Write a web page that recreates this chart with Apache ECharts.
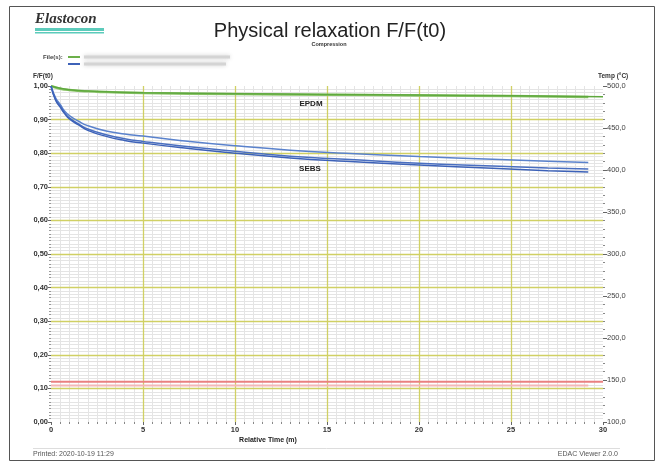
<!DOCTYPE html>
<html>
<head>
<meta charset="utf-8">
<script src="https://cdn.jsdelivr.net/npm/echarts@6/dist/echarts.min.js"></script>
<style>html,body{margin:0;padding:0;background:#fff;}#c{width:661px;height:463px;}</style>
</head>
<body>
<div id="c"></div>
<script>
// Time points (minutes)
var tBlue = [0, 0.25, 0.5, 0.75, 1, 1.5, 2, 3, 4, 5, 7, 10, 13, 16, 20, 24, 27, 29.2];
var sebs1 = [1.0, 0.965, 0.945, 0.925, 0.912, 0.895, 0.882, 0.866, 0.857, 0.851, 0.838, 0.822, 0.809, 0.800, 0.790, 0.782, 0.776, 0.772];
var sebs2 = [1.0, 0.960, 0.940, 0.920, 0.905, 0.887, 0.872, 0.855, 0.843, 0.835, 0.822, 0.806, 0.791, 0.782, 0.770, 0.762, 0.756, 0.753];
var sebs3 = [1.0, 0.958, 0.937, 0.917, 0.902, 0.884, 0.868, 0.850, 0.838, 0.830, 0.817, 0.800, 0.786, 0.776, 0.765, 0.755, 0.748, 0.744];
var tGreen = [0, 0.5, 1, 2, 3, 5, 10, 15, 20, 25, 30];
var epdm1 = [1.0, 0.993, 0.989, 0.985, 0.983, 0.980, 0.977, 0.975, 0.973, 0.971, 0.968];
var tGreen2 = [0, 0.5, 1, 2, 3, 5, 10, 15, 20, 25, 29.2];
var epdm2 = [1.0, 0.992, 0.988, 0.984, 0.982, 0.979, 0.976, 0.974, 0.972, 0.970, 0.967];
var tTemp1 = [0, 30];
var temp1 = [148, 148];
var tTemp2 = [0, 29.2];
var temp2 = [143.5, 143.5];
var yTicksLeft = [0, 1, 0.1];
var yTicksRight = [100, 500, 50];
var xTicks = [0, 30, 5];
var xMajorLines = [5, 10, 15, 20, 25];
var yMajorLines = [0.1, 0.2, 0.3, 0.4, 0.5, 0.6, 0.7, 0.8, 0.9];

function pairs(t, v) { return t.map(function (x, i) { return [x, v[i]]; }); }

var chart = echarts.init(document.getElementById('c'), null, {renderer: 'canvas'});
var major = '#d0d064';
var minor = '#e4e4e4';
var lblFont = {fontSize: 7.5, color: '#333', fontFamily: 'Liberation Sans, Arial', fontWeight: 'bold'};

function G(o) { o.z = 100; o.silent = true; return o; }
function S(o) { o.z = 10; o.showSymbol = false; return o; }

var gridMarks = xMajorLines.map(function (v) { return {xAxis: v}; })
  .concat(yMajorLines.map(function (v) { return {yAxis: v}; }));

chart.setOption({
  animation: false,
  grid: {left: 51, right: 58, top: 86, bottom: 41, containLabel: false},
  xAxis: {
    type: 'value', min: xTicks[0], max: xTicks[1], interval: xTicks[2],
    axisLine: {show: false},
    axisTick: {show: true, length: 3, lineStyle: {color: '#666'}},
    minorTick: {show: true, splitNumber: 10, length: 2, lineStyle: {color: '#888'}},
    splitLine: {show: false},
    minorSplitLine: {show: true, lineStyle: {color: minor, width: 1}},
    axisLabel: Object.assign({margin: 4}, lblFont)
  },
  yAxis: [{
    type: 'value', min: yTicksLeft[0], max: yTicksLeft[1], interval: yTicksLeft[2],
    position: 'left',
    axisLine: {show: false},
    axisTick: {show: true, length: 3, lineStyle: {color: '#666'}},
    minorTick: {show: true, splitNumber: 10, length: 2, lineStyle: {color: '#999'}},
    splitLine: {show: false},
    minorSplitLine: {show: true, lineStyle: {color: minor, width: 1}},
    axisLabel: Object.assign({margin: 3, formatter: function (v) { return v.toFixed(2).replace('.', ','); }}, lblFont)
  }, {
    type: 'value', min: yTicksRight[0], max: yTicksRight[1], interval: yTicksRight[2],
    position: 'right',
    axisLine: {show: false},
    axisTick: {show: true, length: 4, lineStyle: {color: '#666'}},
    minorTick: {show: true, splitNumber: 5, length: 2, lineStyle: {color: '#888'}},
    splitLine: {show: false},
    axisLabel: {margin: 4, fontSize: 7.5, color: '#444', fontFamily: 'Liberation Sans, Arial',
      formatter: function (v) { return v.toFixed(1).replace('.', ','); }}
  }],
  series: [
    {type: 'line', z: 5, data: [], showSymbol: false,
      markLine: {silent: true, symbol: 'none', label: {show: false}, animation: false,
        lineStyle: {color: major, width: 1.3, type: 'solid', opacity: 1}, emphasis: {disabled: true},
        data: gridMarks}},
    S({type: 'line', yAxisIndex: 1, data: pairs(tTemp2, temp2), lineStyle: {color: '#f4b8b8', width: 2}}),
    S({type: 'line', yAxisIndex: 1, data: pairs(tTemp1, temp1), lineStyle: {color: '#ea8080', width: 2}}),
    S({type: 'line', data: pairs(tGreen2, epdm2), smooth: true, lineStyle: {color: '#8cc56a', width: 2.5}}),
    S({type: 'line', data: pairs(tGreen, epdm1), smooth: true, lineStyle: {color: '#5fa83e', width: 1.5}}),
    S({type: 'line', data: pairs(tBlue, sebs1), smooth: true, lineStyle: {color: '#5a82cc', width: 1.5}}),
    S({type: 'line', data: pairs(tBlue, sebs2), smooth: true, lineStyle: {color: '#4a6fc0', width: 1.5}}),
    S({type: 'line', data: pairs(tBlue, sebs3), smooth: true, lineStyle: {color: '#3d62b8', width: 1.5}})
  ],
  graphic: [
    G({type: 'rect', shape: {x: 9.5, y: 6.5, width: 645, height: 454}, style: {fill: null, stroke: '#555', lineWidth: 1}}),
    G({type: 'text', left: 35, top: 12, style: {text: 'Elastocon', font: 'italic bold 15px "Liberation Serif", "DejaVu Serif", serif', fill: '#333'}}),
    G({type: 'rect', shape: {x: 35, y: 28, width: 69, height: 3}, style: {fill: '#5ccbbb'}}),
    G({type: 'rect', shape: {x: 35, y: 32, width: 69, height: 1.5}, style: {fill: '#5ccbbb'}}),
    G({type: 'text', x: 330, y: 31, style: {text: 'Physical relaxation F/F(t0)', font: '20px "Liberation Sans", Arial, sans-serif', fill: '#222', textAlign: 'center', textVerticalAlign: 'middle'}}),
    G({type: 'text', x: 329, y: 44, style: {text: 'Compression', font: 'bold 5.5px "Liberation Sans", Arial, sans-serif', fill: '#333', textAlign: 'center', textVerticalAlign: 'middle'}}),
    G({type: 'text', x: 43, y: 57, style: {text: 'File(s):', font: 'bold 6px "Liberation Sans", Arial, sans-serif', fill: '#444', textVerticalAlign: 'middle'}}),
    G({type: 'line', shape: {x1: 68, y1: 57, x2: 80, y2: 57}, style: {stroke: '#6cb04a', lineWidth: 2}}),
    G({type: 'line', shape: {x1: 68, y1: 64, x2: 80, y2: 64}, style: {stroke: '#3d62b8', lineWidth: 2}}),
    G({type: 'rect', shape: {x: 84, y: 55.5, width: 146, height: 3}, style: {fill: '#d4d4d4', shadowBlur: 4, shadowColor: '#d0d0d0'}}),
    G({type: 'rect', shape: {x: 84, y: 62.5, width: 142, height: 3}, style: {fill: '#d4d4d4', shadowBlur: 4, shadowColor: '#d0d0d0'}}),
    G({type: 'text', x: 33, y: 76, style: {text: 'F/F(t0)', font: 'bold 6.5px "Liberation Sans", Arial, sans-serif', fill: '#333', textVerticalAlign: 'middle'}}),
    G({type: 'text', x: 598, y: 76, style: {text: 'Temp (°C)', font: 'bold 6.5px "Liberation Sans", Arial, sans-serif', fill: '#333', textVerticalAlign: 'middle'}}),
    G({type: 'text', x: 311, y: 104, style: {text: 'EPDM', font: 'bold 8px "Liberation Sans", Arial, sans-serif', fill: '#222', textAlign: 'center', textVerticalAlign: 'middle'}}),
    G({type: 'text', x: 310, y: 169, style: {text: 'SEBS', font: 'bold 8px "Liberation Sans", Arial, sans-serif', fill: '#222', textAlign: 'center', textVerticalAlign: 'middle'}}),
    G({type: 'text', x: 268, y: 440, style: {text: 'Relative Time (m)', font: 'bold 7px "Liberation Sans", Arial, sans-serif', fill: '#222', textAlign: 'center', textVerticalAlign: 'middle'}}),
    G({type: 'line', shape: {x1: 33, y1: 448.5, x2: 620, y2: 448.5}, style: {stroke: '#ddd', lineWidth: 1}}),
    G({type: 'text', x: 33, y: 454, style: {text: 'Printed: 2020-10-19 11:29', font: '7px "Liberation Sans", Arial, sans-serif', fill: '#555', textVerticalAlign: 'middle'}}),
    G({type: 'text', x: 618, y: 454, style: {text: 'EDAC Viewer 2.0.0', font: '7px "Liberation Sans", Arial, sans-serif', fill: '#555', textAlign: 'right', textVerticalAlign: 'middle'}})
  ]
});
</script>
</body>
</html>
